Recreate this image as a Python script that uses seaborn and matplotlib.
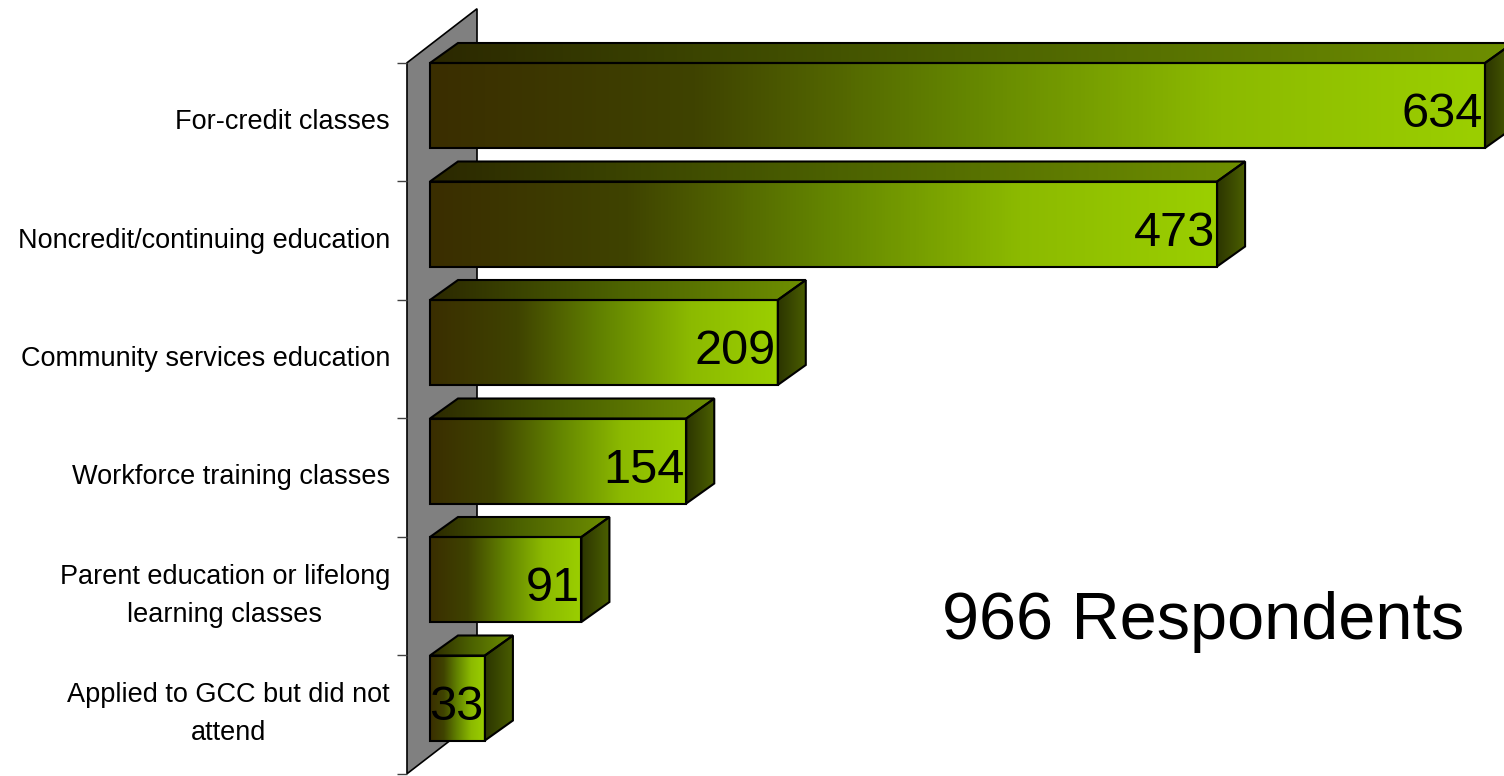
import numpy as np
import pandas as pd
import matplotlib
matplotlib.use("Agg")
import matplotlib.pyplot as plt
import seaborn as sns
from matplotlib.colors import LinearSegmentedColormap
from matplotlib.patches import Polygon
from matplotlib import font_manager as fm

# ---------------- data ----------------
categories = [
    "For-credit classes",
    "Noncredit/continuing education",
    "Community services education",
    "Workforce training classes",
    "Parent education or lifelong\nlearning classes",
    "Applied to GCC but did not\nattend",
]
values = [634, 473, 209, 154, 91, 33]
annotation = "966 Respondents"

# ---------------- fonts ----------------
names = {f.name for f in fm.fontManager.ttflist}
LABEL_FONT = "Liberation Sans" if "Liberation Sans" in names else "DejaVu Sans"
NUM_FONT = "Liberation Sans Narrow" if "Liberation Sans Narrow" in names else LABEL_FONT
NUM_SIZE = 37 if NUM_FONT == "Liberation Sans Narrow" else 35

sns.set_style("white")
plt.rcParams["font.family"] = [LABEL_FONT, "DejaVu Sans"]

# ---------------- layout (pixels) ----------------
W, H, DPI = 1504, 776, 100
X0_PX, XEND_PX = 430, 1485          # bar start / end of longest bar
ROW_PX, Y0_PX = 118.5, 105.5        # row pitch / center of first bar front
BAR_H_PX = 85
DEPTH_DX_PX, DEPTH_DY_PX = 28, 20   # bar depth
WALL_FRONT_PX, WALL_BACK_PX, WALL_DY_PX = 407, 477, 54
SHIFT_Y_PX = 16.5                   # wall-plane offset of category centres

sx = (XEND_PX - X0_PX) / max(values)
def px2x(px):
    return (px - X0_PX) / sx

fig = plt.figure(figsize=(W / DPI, H / DPI), dpi=DPI)
ax = fig.add_axes([0, 0, 1, 1])

df = pd.DataFrame({"category": categories, "value": values})
sns.barplot(data=df, x="value", y="category", orient="h",
            width=BAR_H_PX / ROW_PX, color="#99cc00", ax=ax, zorder=4)

n = len(categories)
DX = DEPTH_DX_PX / sx
DY = DEPTH_DY_PX / ROW_PX
shift_y = SHIFT_Y_PX / ROW_PX

front_cmap = LinearSegmentedColormap.from_list(
    "front", [(0, "#3a2e00"), (0.25, "#3f4300"), (0.5, "#638400"),
              (0.75, "#8cba00"), (1.0, "#9bcf00")])
top_cmap = LinearSegmentedColormap.from_list(
    "top", [(0, "#2b2800"), (0.5, "#4c6200"), (1.0, "#6e8f00")])
side_cmap = LinearSegmentedColormap.from_list(
    "side", [(0, "#2c3500"), (1.0, "#4a5e00")])

grad = np.linspace(0, 1, 256)[None, :]

# ---- back wall ----
wf, wb = px2x(WALL_FRONT_PX), px2x(WALL_BACK_PX)
wdy = WALL_DY_PX / ROW_PX
top_b, bot_b = -0.5 + shift_y, n - 0.5 + shift_y
wall = Polygon([(wf, top_b), (wb, top_b - wdy), (wb, bot_b - wdy), (wf, bot_b)],
               closed=True, facecolor="#808080", edgecolor="black", lw=1.2, zorder=1)
ax.add_patch(wall)

# ticks on the wall front edge
for k in range(n + 1):
    b = -0.5 + k + shift_y
    ax.plot([px2x(397), wf], [b, b], color="#404040", lw=1, zorder=1,
            solid_capstyle="butt")

# ---- bars (3D look) ----
for p, v in zip(ax.patches, values):
    x0, w = p.get_x(), p.get_width()
    y, h = p.get_y(), p.get_height()
    x1 = x0 + w
    p.set_facecolor("none")
    p.set_edgecolor("black")
    p.set_linewidth(1.5)
    p.set_zorder(6)
    im = ax.imshow(grad, extent=[x0, x1, y + h, y], cmap=front_cmap,
                   aspect="auto", interpolation="bilinear", zorder=5)
    im.set_clip_path(p)

    topf = Polygon([(x0, y), (x0 + DX, y - DY), (x1 + DX, y - DY), (x1, y)],
                   closed=True, facecolor="none", edgecolor="black", lw=1.5, zorder=6)
    ax.add_patch(topf)
    im2 = ax.imshow(grad, extent=[x0, x1 + DX, y, y - DY], cmap=top_cmap,
                    aspect="auto", interpolation="bilinear", zorder=5)
    im2.set_clip_path(topf)

    side = Polygon([(x1, y), (x1 + DX, y - DY), (x1 + DX, y + h - DY), (x1, y + h)],
                   closed=True, facecolor="none", edgecolor="black", lw=1.5, zorder=6)
    ax.add_patch(side)
    im3 = ax.imshow(grad, extent=[x1, x1 + DX, y + h, y - DY], cmap=side_cmap,
                    aspect="auto", interpolation="bilinear", zorder=5)
    im3.set_clip_path(side)

    ax.text(x1 - 2 / sx, y + h / 2 + 9 / ROW_PX, f"{v}", ha="right", va="center",
            fontsize=NUM_SIZE, family=[NUM_FONT, "DejaVu Sans"], color="black", zorder=7)

# ---- category labels ----
for i, cat in enumerate(categories):
    ax.text(px2x(390), i + shift_y, cat, ha="right", va="center",
            multialignment="center", fontsize=19.5, linespacing=1.6,
            color="black", zorder=7)

ax.text(px2x(1203), (622 - Y0_PX) / ROW_PX, annotation, ha="center", va="center",
        fontsize=48, color="black", zorder=7)

ax.set_xlim(-X0_PX / sx, (W - X0_PX) / sx)
ax.set_ylim((H - Y0_PX) / ROW_PX, -Y0_PX / ROW_PX)
ax.axis("off")

fig.savefig("out.png", dpi=DPI)
